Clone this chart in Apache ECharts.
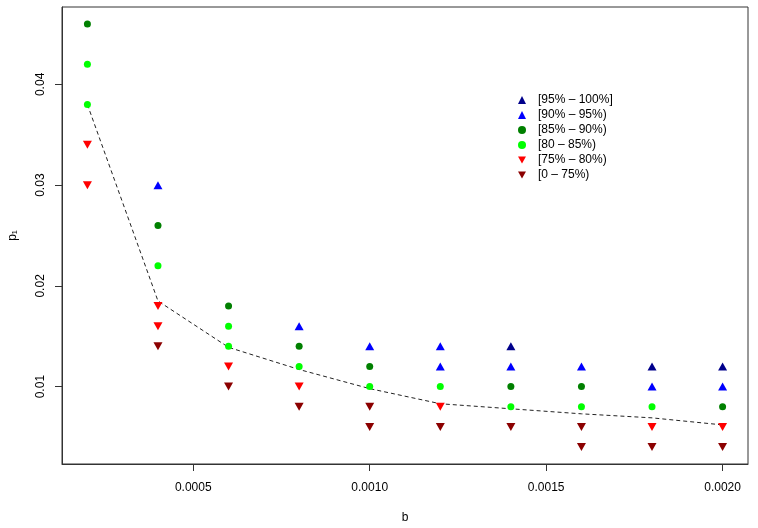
<!DOCTYPE html>
<html>
<head>
<meta charset="UTF-8">
<title>p1 vs b</title>
<script src="https://cdn.jsdelivr.net/npm/echarts@6/dist/echarts.min.js"></script>
<style>
  html, body { margin: 0; padding: 0; background: #fff; }
  #chart { width: 758px; height: 528px; }
</style>
</head>
<body>
<div id="chart"></div>
<script>
// class names, in legend order
var classNames = ['[95% \u2013 100%]', '[90% \u2013 95%)', '[85% \u2013 90%)', '[80 \u2013 85%)', '[75% \u2013 80%)', '[0 \u2013 75%)'];

// points for each class: [b, p1]
var navyPts = [[0.0014, 0.014], [0.0018, 0.012], [0.0020, 0.012]];
var bluePts = [[0.0004, 0.030], [0.0008, 0.016], [0.0010, 0.014], [0.0012, 0.014], [0.0012, 0.012],
               [0.0014, 0.012], [0.0016, 0.012], [0.0018, 0.010], [0.0020, 0.010]];
var darkGreenPts = [[0.0002, 0.046], [0.0004, 0.026], [0.0006, 0.018], [0.0008, 0.014], [0.0010, 0.012],
                    [0.0014, 0.010], [0.0016, 0.010], [0.0020, 0.008]];
var lightGreenPts = [[0.0002, 0.042], [0.0002, 0.038], [0.0004, 0.022], [0.0006, 0.016], [0.0006, 0.014],
                     [0.0008, 0.012], [0.0010, 0.010], [0.0012, 0.010], [0.0014, 0.008], [0.0016, 0.008],
                     [0.0018, 0.008]];
var redPts = [[0.0002, 0.034], [0.0002, 0.030], [0.0004, 0.018], [0.0004, 0.016], [0.0006, 0.012],
              [0.0008, 0.010], [0.0012, 0.008], [0.0018, 0.006], [0.0020, 0.006]];
var darkRedPts = [[0.0004, 0.014], [0.0006, 0.010], [0.0008, 0.008], [0.0010, 0.008], [0.0010, 0.006],
                  [0.0012, 0.006], [0.0014, 0.006], [0.0016, 0.006], [0.0016, 0.004], [0.0018, 0.004],
                  [0.0020, 0.004]];

// dashed curve
var lineB = [0.0002, 0.0004, 0.0006, 0.0008, 0.0010, 0.0012, 0.0014, 0.0016, 0.0018, 0.0020];
var lineP = [0.038, 0.0185, 0.0139, 0.0117, 0.0098, 0.0083, 0.0078, 0.0073, 0.0069, 0.0062];

// tick labels
var xTicks = [0.0005, 0.0010, 0.0015, 0.0020];
var yTicks = [0.01, 0.02, 0.03, 0.04];

var chart = echarts.init(document.getElementById('chart'));

var upTri = 'triangle';
var downTri = 'path://M0,0L10,0L5,9Z';
var font = 'Liberation Sans';

function pointSeries(name, pts, symbol, size, color) {
  return {
    name: name,
    type: 'scatter',
    data: pts,
    symbol: symbol,
    symbolSize: size,
    itemStyle: { color: color, opacity: 1 },
    z: 3
  };
}

var option = {
  animation: false,
  textStyle: { fontFamily: font },
  grid: {
    left: 62, right: 10, top: 7, bottom: 64,
    outerBoundsMode: 'none',
    containLabel: false,
    show: true, borderColor: '#333', borderWidth: 1
  },
  legend: {
    data: classNames,
    orient: 'vertical',
    left: 513,
    top: 89,
    itemWidth: 8,
    itemHeight: 8,
    itemGap: 3,
    textStyle: { fontFamily: font, fontSize: 12, lineHeight: 12, color: '#000', padding: [0, 0, 0, 7] }
  },
  xAxis: {
    type: 'value',
    min: 0.000128, max: 0.002072,
    name: 'b',
    nameLocation: 'middle',
    nameGap: 48,
    nameTextStyle: { fontFamily: font, fontSize: 12, color: '#000' },
    axisLine: { show: true, lineStyle: { color: '#333' } },
    axisTick: { show: true, length: 7, customValues: xTicks, lineStyle: { color: '#333' } },
    axisLabel: {
      margin: 18, fontSize: 12, color: '#000', fontFamily: font,
      customValues: xTicks,
      formatter: function (v) { return v.toFixed(4); }
    },
    splitLine: { show: false }
  },
  yAxis: {
    type: 'value',
    min: 0.00232, max: 0.04768,
    name: 'p\u2081',
    nameLocation: 'middle',
    nameRotate: 90,
    nameGap: 43,
    nameTextStyle: { fontFamily: font, fontSize: 12, color: '#000' },
    axisLine: { show: true, lineStyle: { color: '#333' } },
    axisTick: { show: true, length: 7, customValues: yTicks, lineStyle: { color: '#333' } },
    axisLabel: {
      rotate: 90, margin: 15, fontSize: 12, color: '#000', fontFamily: font,
      customValues: yTicks,
      formatter: function (v) { return v.toFixed(2); }
    },
    splitLine: { show: false }
  },
  series: [
    {
      name: 'curve',
      type: 'line',
      data: lineB.map(function (b, i) { return [b, lineP[i]]; }),
      showSymbol: false,
      symbol: 'none',
      lineStyle: { color: '#222', width: 1, type: [4, 3] },
      z: 2
    },
    pointSeries(classNames[0], navyPts, upTri, [9, 8], '#00008B'),
    pointSeries(classNames[1], bluePts, upTri, [9, 8], '#0000FF'),
    pointSeries(classNames[2], darkGreenPts, 'circle', 7, '#008000'),
    pointSeries(classNames[3], lightGreenPts, 'circle', 7, '#00FF00'),
    pointSeries(classNames[4], redPts, downTri, [9, 8], '#FF0000'),
    pointSeries(classNames[5], darkRedPts, downTri, [9, 8], '#8B0000')
  ]
};

chart.setOption(option);
</script>
</body>
</html>
